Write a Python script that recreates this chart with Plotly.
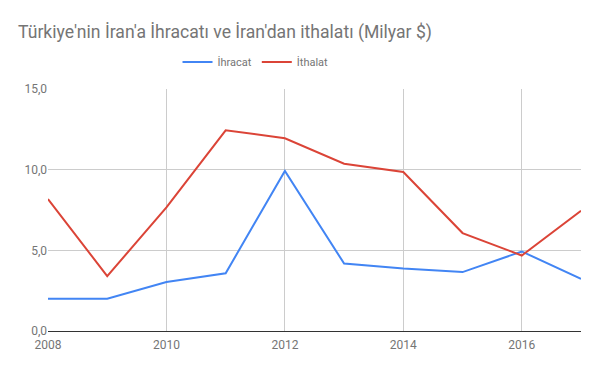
import plotly.graph_objects as go

years = [2008, 2009, 2010, 2011, 2012, 2013, 2014, 2015, 2016, 2017]
ihracat = [2.0, 2.0, 3.04, 3.58, 9.92, 4.18, 3.87, 3.65, 4.93, 3.23]
ithalat = [8.18, 3.4, 7.66, 12.44, 11.95, 10.37, 9.86, 6.07, 4.68, 7.45]
x_ticks = [2008, 2010, 2012, 2014, 2016]
y_ticks = [0, 5, 10, 15]

fig = go.Figure()
fig.add_trace(go.Scatter(x=years, y=ihracat, mode="lines", name="İhracat",
                         line=dict(color="#4285f4", width=2)))
fig.add_trace(go.Scatter(x=years, y=ithalat, mode="lines", name="İthalat",
                         line=dict(color="#db4437", width=2)))

fig.update_layout(
    width=600, height=371,
    paper_bgcolor="white", plot_bgcolor="white",
    separators=",.",
    font=dict(family="Roboto", color="#757575", size=12),
    title=dict(text="Türkiye'nin İran'a İhracatı ve İran'dan ithalatı (Milyar $)",
               x=0.03, xanchor="left", y=0.915, yanchor="middle",
               font=dict(family="Roboto", size=17.6, color="#757575")),
    margin=dict(l=48, r=19, t=89, b=40, autoexpand=False),
    showlegend=True,
    legend=dict(orientation="h", x=0.243, xanchor="left", y=1.112, yanchor="middle",
                font=dict(size=11, color="#757575"), itemwidth=30,
                bgcolor="rgba(0,0,0,0)"),
    xaxis=dict(range=[2008, 2017], tickvals=x_ticks, ticktext=[str(v) for v in x_ticks],
               showgrid=True, gridcolor="#cccccc", gridwidth=1, zeroline=False,
               showline=False, ticks="outside", ticklen=3, tickcolor="rgba(0,0,0,0)",
               tickfont=dict(size=12, color="#757575")),
    yaxis=dict(range=[0, 15], tickvals=y_ticks, tickformat=".1f",
               showgrid=True, gridcolor="#cccccc", gridwidth=1,
               zeroline=True, zerolinecolor="#333333", zerolinewidth=1,
               showline=False, ticks="", tickfont=dict(size=12, color="#757575")),
)
fig.write_html("out.html", config={"displayModeBar": False},
               post_script="document.body.style.margin='0';")
